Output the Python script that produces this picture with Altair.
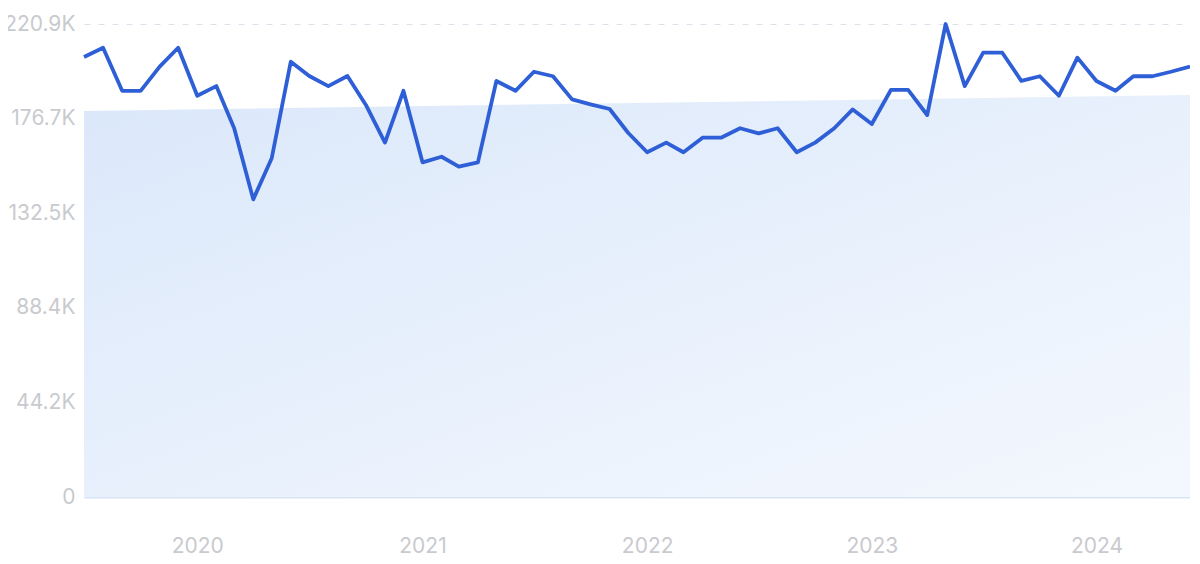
import altair as alt
import pandas as pd

# Monthly values, Jul 2019 .. Jun 2024
start_month = "2019-07-01"
values = [
    205.5, 209.8, 189.7, 189.7, 201.0, 209.8, 187.4, 191.9, 172.2, 139.0,
    158.2, 203.3, 196.6, 191.9, 196.6, 183.1, 165.5, 189.7, 156.3, 158.9,
    154.3, 156.3, 194.3, 189.7, 198.6, 196.5, 185.7, 183.4, 181.2, 170.1,
    161.0, 165.5, 161.0, 167.8, 167.8, 172.2, 169.8, 172.2, 161.0, 165.5,
    172.2, 181.0, 174.2, 190.1, 190.1, 178.4, 220.9, 191.9, 207.5, 207.5,
    194.3, 196.5, 187.4, 205.2, 194.3, 189.7, 196.5, 196.5, 198.6, 201.0,
]
trend_values = [180.3, 187.7]  # trend band: first and last month
y_ticks = [0, 44180, 88360, 132540, 176720, 220900]
y_tick_labels = ["0", "44.2K", "88.4K", "132.5K", "176.7K", "220.9K"]
x_years = [2020, 2021, 2022, 2023, 2024]

dates = pd.date_range(start_month, periods=len(values), freq="MS")
df = pd.DataFrame({"date": dates, "value": [v * 1000 for v in values]})
trend_df = pd.DataFrame({"date": [dates[0], dates[-1]],
                         "value": [v * 1000 for v in trend_values]})

label_expr = "''"
for t, lab in zip(reversed(y_ticks), reversed(y_tick_labels)):
    label_expr = f"datum.value == {t} ? '{lab}' : ({label_expr})"

x_scale = alt.Scale(domain=[alt.DateTime(year=2019, month=7, date=1),
                            alt.DateTime(year=2024, month=6, date=1)])
y_scale = alt.Scale(domain=[0, 220900], nice=False)

font = "Inter"
lab_color = "#c9cace"

x_enc = alt.X("date:T", scale=x_scale, title=None,
              axis=alt.Axis(values=[alt.DateTime(year=y, month=1, date=1) for y in x_years],
                            format="%Y", grid=False, ticks=False,
                            domain=True, domainColor="#d7e4f5", domainWidth=2,
                            labelFont=font, labelFontSize=21, labelColor=lab_color,
                            labelPadding=38, labelAlign="center"))
y_enc = alt.Y("value:Q", scale=y_scale, title=None,
              axis=alt.Axis(values=y_ticks, labelExpr=label_expr,
                            grid=True, gridDash=[6, 8], gridColor="#dbe2ec", gridWidth=1,
                            ticks=False, domain=False,
                            labelFont=font, labelFontSize=21, labelColor=lab_color,
                            labelPadding=9))

area = alt.Chart(trend_df).mark_area(
    color=alt.Gradient(gradient="linear",
                       stops=[alt.GradientStop(color="#dbe8fa", offset=0),
                              alt.GradientStop(color="#f4f8fe", offset=1)],
                       x1=0, y1=0, x2=1, y2=1)
).encode(x=x_enc, y=y_enc)

line = alt.Chart(df).mark_line(color="#2f5fd6", strokeWidth=3.8,
                               strokeJoin="round").encode(
    x=alt.X("date:T", scale=x_scale),
    y=alt.Y("value:Q", scale=y_scale))

chart = alt.layer(area, line).properties(
    width=1106, height=473,
    autosize=alt.AutoSizeParams(type="none"),
    padding={"left": 76, "top": 16, "right": 0, "bottom": 60},
).configure_view(stroke=None)

chart.save("out.html", embed_options={"renderer": "svg", "actions": False})
